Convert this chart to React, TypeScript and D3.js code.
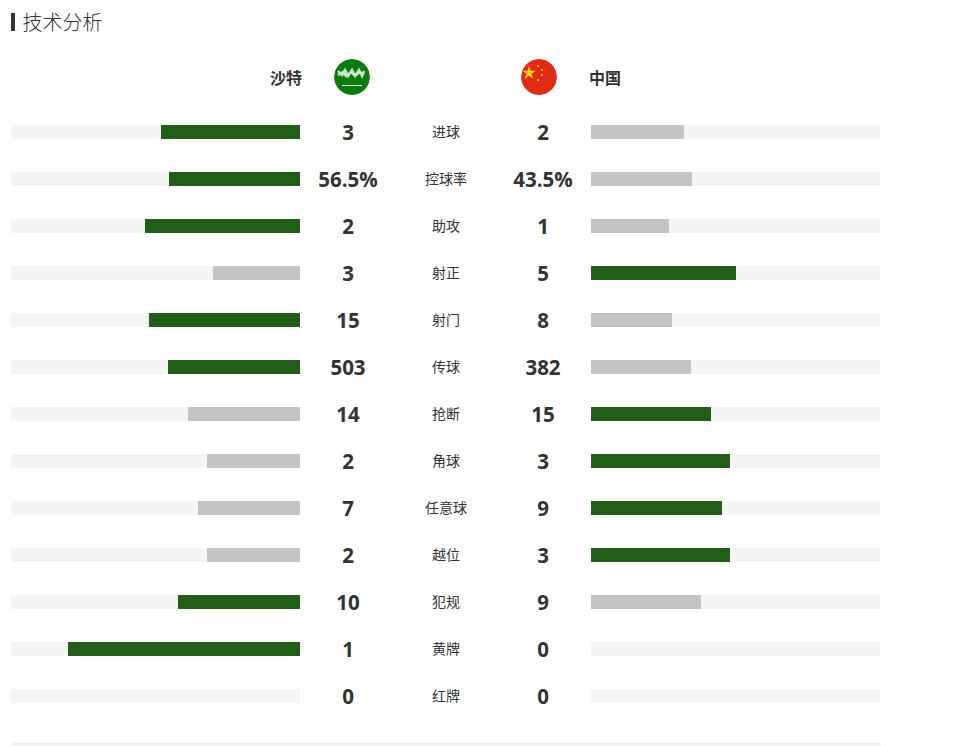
import React from 'react';
import * as d3 from 'd3';

const categories = ['进球', '控球率', '助攻', '射正', '射门', '传球', '抢断', '角球', '任意球', '越位', '犯规', '黄牌', '红牌'];
const homeValues = [3, 56.5, 2, 3, 15, 503, 14, 2, 7, 2, 10, 1, 0];
const awayValues = [2, 43.5, 1, 5, 8, 382, 15, 3, 9, 3, 9, 0, 0];
const homeTeam = '沙特';
const awayTeam = '中国';
const title = '技术分析';
const percentRow = '控球率';

const WIDTH = 963;
const HEIGHT = 746;
const BAR_WIN = '#225e18';
const BAR_LOSE = '#c4c4c4';
const TRACK = '#f5f5f5';
const TEXT = '#333333';
const NUM_FONT = '"Open Sans", "Noto Sans CJK SC", sans-serif';
const CJK_FONT = '"Noto Sans CJK SC", sans-serif';

// bars only ever reach 80% of the track, so share 1 = 0.8 of the width
const share = d3.scaleLinear().domain([0, 1.25]).range([0, 289]);

const rowY = d3.scalePoint<string>()
  .domain(categories)
  .range([132, 132 + 47 * (categories.length - 1)]);

const star = d3.symbol().type(d3.symbolStar);

const App = () => {
  const fmt = (cat: string, v: number) => (cat === percentRow ? `${v}%` : `${v}`);

  return (
    <svg width={WIDTH} height={HEIGHT} style={{ position: 'absolute', left: 0, top: 0 }}>
      <defs>
        <clipPath id="flag-home"><circle cx={352} cy={77} r={18} /></clipPath>
        <clipPath id="flag-away"><circle cx={539} cy={77} r={18} /></clipPath>
        <filter id="soft" x="-20%" y="-20%" width="140%" height="140%">
          <feGaussianBlur stdDeviation="0.6" />
        </filter>
      </defs>

      <rect x={11} y={13} width={4} height={18} fill={TEXT} />
      <text x={22.5} y={30} fontFamily={CJK_FONT} fontSize={20} fontWeight={300} fill={TEXT}>{title}</text>

      <text x={302} y={84} textAnchor="end" fontFamily={CJK_FONT} fontSize={16} fontWeight={700} fill={TEXT}>{homeTeam}</text>
      <text x={589} y={84} fontFamily={CJK_FONT} fontSize={16} fontWeight={700} fill={TEXT}>{awayTeam}</text>

      {/* flags */}
      <g clipPath="url(#flag-home)">
        <circle cx={352} cy={77} r={18} fill="#0b7d0f" />
        <g filter="url(#soft)">
          <path d="M338 71l4 4 3-5 3 6 4-6 3 6 4-6 3 6 2-5M338 75l5-3 3 4 5-4 4 4 5-4 4 3" stroke="#cfe2cc" strokeWidth={2.4} fill="none" />
          <rect x={342} y={85} width={20} height={1} fill="#e4f0e2" />
        </g>
      </g>
      <g clipPath="url(#flag-away)">
        <circle cx={539} cy={77} r={18} fill="#e12b14" />
        <g filter="url(#soft)" fill="#f7d21c">
          <path d={star.size(55)() ?? ''} transform="translate(529,73)" />
          <circle cx={538} cy={66} r={1.1} />
          <circle cx={542} cy={70} r={1.1} />
          <circle cx={542} cy={75} r={1.1} />
          <circle cx={538} cy={80} r={1.1} />
        </g>
      </g>

      {categories.map((cat, i) => {
        const y = rowY(cat) ?? 0;
        const h = homeValues[i];
        const a = awayValues[i];
        const total = h + a;
        const hw = total ? Math.ceil(share(h / total)) : 0;
        const aw = total ? Math.ceil(share(a / total)) : 0;
        return (
          <g key={cat}>
            <rect x={11} y={y - 7} width={289} height={14} fill={TRACK} />
            <rect x={591} y={y - 7} width={289} height={14} fill={TRACK} />
            <rect x={300 - hw} y={y - 7} width={hw} height={14} fill={h > a ? BAR_WIN : BAR_LOSE} />
            <rect x={591} y={y - 7} width={aw} height={14} fill={a > h ? BAR_WIN : BAR_LOSE} />
            <text x={348} y={y + 8} textAnchor="middle" fontFamily={NUM_FONT} fontSize={20.5} fontWeight={700} fill={TEXT}>{fmt(cat, h)}</text>
            <text x={543} y={y + 8} textAnchor="middle" fontFamily={NUM_FONT} fontSize={20.5} fontWeight={700} fill={TEXT}>{fmt(cat, a)}</text>
            <text x={446} y={y + 5} textAnchor="middle" fontFamily={CJK_FONT} fontSize={14} fill={TEXT}>{cat}</text>
          </g>
        );
      })}

      <rect x={11} y={742} width={870} height={4} fill={TRACK} />
    </svg>
  );
};

export default App;
